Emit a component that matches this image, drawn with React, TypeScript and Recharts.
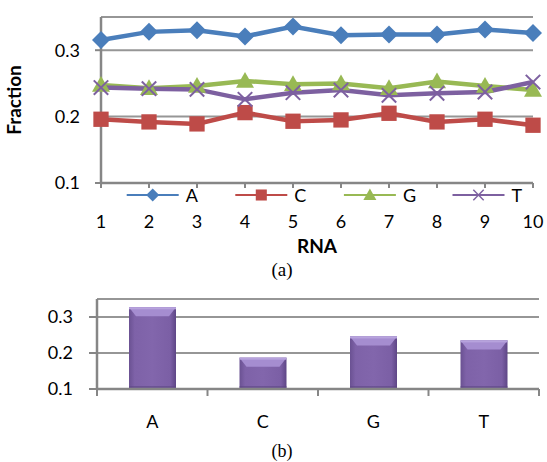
import React from 'react';
import { LineChart, Line, BarChart, Bar, XAxis, YAxis, CartesianGrid, Legend, Label } from 'recharts';

const rnaIndex = [1, 2, 3, 4, 5, 6, 7, 8, 9, 10];
const seriesA = [0.3155, 0.3276, 0.330, 0.3207, 0.3357, 0.3226, 0.3237, 0.3237, 0.331, 0.326];
const seriesC = [0.196, 0.192, 0.189, 0.206, 0.193, 0.195, 0.205, 0.192, 0.196, 0.187];
const seriesG = [0.2477, 0.2427, 0.246, 0.2537, 0.2487, 0.250, 0.2427, 0.2527, 0.246, 0.240];
const seriesT = [0.2437, 0.242, 0.241, 0.226, 0.236, 0.240, 0.232, 0.235, 0.237, 0.252];

const bases = ['A', 'C', 'G', 'T'];
const baseFraction = [0.327, 0.187, 0.246, 0.235];

const yTicks = [0.1, 0.2, 0.3];

const lineData = rnaIndex.map((r, i) => ({ rna: r, A: seriesA[i], C: seriesC[i], G: seriesG[i], T: seriesT[i] }));
const barData = bases.map((b, i) => ({ base: b, value: baseFraction[i] }));

const FONT = 'Lato, "Open Sans", sans-serif';
const AXIS = '#868686';
const GRID = '#969696';
const COLORS: Record<string, string> = { A: '#4A7EBB', C: '#BE4B48', G: '#98B954', T: '#7D60A0' };

function Marker({ kind, cx, cy, size, color }: { kind: string; cx: number; cy: number; size: number; color: string }) {
  const h = size / 2;
  if (kind === 'A') {
    return <polygon points={`${cx},${cy - h} ${cx + h},${cy} ${cx},${cy + h} ${cx - h},${cy}`} fill={color} />;
  }
  if (kind === 'C') {
    const s = h * 0.85;
    return <rect x={cx - s} y={cy - s} width={2 * s} height={2 * s} fill={color} />;
  }
  if (kind === 'G') {
    return <polygon points={`${cx},${cy - h} ${cx + h},${cy + h * 0.75} ${cx - h},${cy + h * 0.75}`} fill={color} />;
  }
  const s = h * 0.8;
  return (
    <g stroke={color} strokeWidth={size / 9}>
      <line x1={cx - s} y1={cy - s} x2={cx + s} y2={cy + s} />
      <line x1={cx - s} y1={cy + s} x2={cx + s} y2={cy - s} />
    </g>
  );
}

const makeDot = (kind: string) => (props: any) => {
  const { cx, cy, index } = props;
  if (cx == null || cy == null) return <g key={`${kind}-${index}`} />;
  return <Marker key={`${kind}-${index}`} kind={kind} cx={cx} cy={cy} size={18} color={COLORS[kind]} />;
};

const LegendContent = (props: any) => {
  const payload = props.payload || [];
  return (
    <svg width={547} height={22} style={{ display: 'block' }}>
      {payload.map((p: any, i: number) => {
        const x0 = 126.7 + i * 108.6;
        const key = String(p.dataKey);
        return (
          <g key={key}>
            <line x1={x0} y1={11} x2={x0 + 52} y2={11} stroke={COLORS[key]} strokeWidth={2} />
            <Marker kind={key} cx={x0 + 26} cy={11} size={13} color={COLORS[key]} />
            <text x={x0 + 59} y={11} dominantBaseline="central" fontFamily={FONT} fontSize={18} fill="#000">
              {key}
            </text>
          </g>
        );
      })}
    </svg>
  );
};

const fmt = (v: number) => v.toFixed(1);

const BAND = (539.3 - 97.3) / 4;

const CategoryTick = (props: any) => {
  const { x, y, payload, index } = props;
  const half = BAND / 2;
  return (
    <g>
      <line x1={x - half} y1={y} x2={x - half} y2={y + 7} stroke={AXIS} strokeWidth={2} />
      {index === bases.length - 1 && <line x1={x + half} y1={y} x2={x + half} y2={y + 7} stroke={AXIS} strokeWidth={2} />}
      <text x={x} y={y + 39} textAnchor="middle" fontFamily={FONT} fontSize={18} fill="#000">
        {payload.value}
      </text>
    </g>
  );
};

const BevelBar = (props: any) => {
  const { x, y, width, height } = props;
  if (height <= 0) return null;
  const b = Math.min(9, height / 3);
  return (
    <g>
      <rect x={x} y={y} width={width} height={height} fill="url(#barGrad)" />
      <polygon points={`${x},${y} ${x + width},${y} ${x + width - 7},${y + b} ${x + 7},${y + b}`} fill="#A58DD0" />
      <rect x={x} y={y} width={width} height={2} fill="#B7A3DD" />
      <rect x={x} y={y + height - 3} width={width} height={3} fill="#5E4686" opacity={0.6} />
    </g>
  );
};

export default function App() {
  return (
    <div style={{ position: 'absolute', left: 0, top: 0, width: 547, height: 462, background: '#fff', fontFamily: FONT, overflow: 'hidden' }}>
      <div style={{ position: 'absolute', left: 0, top: 0 }}>
        <LineChart width={547} height={300} data={lineData} margin={{ top: 17, right: 14, left: 0, bottom: 0 }}>
          <CartesianGrid horizontal vertical={false} stroke={GRID} strokeWidth={2} />
          <XAxis
            dataKey="rna"
            type="number"
            domain={[1, 10]}
            ticks={rnaIndex}
            interval={0}
            height={117}
            axisLine={{ stroke: AXIS, strokeWidth: 2.5 }}
            tickLine={{ stroke: AXIS, strokeWidth: 2 }}
            tickSize={5}
            tickMargin={27}
            tick={{ fontFamily: FONT, fontSize: 18, fill: '#000' }}
          >
            <Label value="RNA" position="insideTop" offset={57} style={{ fontFamily: FONT, fontSize: 19, fontWeight: 700, fill: '#000' }} />
          </XAxis>
          <YAxis
            width={101}
            domain={[0.1, 0.35]}
            ticks={yTicks}
            allowDataOverflow
            tickFormatter={fmt}
            axisLine={{ stroke: AXIS, strokeWidth: 2.5 }}
            tickLine={{ stroke: AXIS, strokeWidth: 2 }}
            tickSize={6}
            tickMargin={15}
            tick={{ fontFamily: FONT, fontSize: 18, fill: '#000' }}
          >
            <Label value="Fraction" angle={-90} position="insideLeft" offset={14} style={{ textAnchor: 'middle', fontFamily: FONT, fontSize: 19, fontWeight: 700, fill: '#000' }} />
          </YAxis>
          <Legend layout="horizontal" verticalAlign="middle" align="center" content={LegendContent} wrapperStyle={{ top: 184, left: 0, width: 547, height: 22 }} />
          <Line dataKey="A" stroke={COLORS.A} strokeWidth={4.5} dot={makeDot('A')} activeDot={false} isAnimationActive={false} />
          <Line dataKey="C" stroke={COLORS.C} strokeWidth={4.5} dot={makeDot('C')} activeDot={false} isAnimationActive={false} />
          <Line dataKey="G" stroke={COLORS.G} strokeWidth={4.5} dot={makeDot('G')} activeDot={false} isAnimationActive={false} />
          <Line dataKey="T" stroke={COLORS.T} strokeWidth={4.5} dot={makeDot('T')} activeDot={false} isAnimationActive={false} />
        </LineChart>
      </div>
      <div style={{ position: 'absolute', left: 0, top: 260, width: 547, height: 20, textAlign: 'center', paddingLeft: 17, boxSizing: 'border-box', fontFamily: '"Liberation Serif", "Times New Roman", serif', fontSize: 19, lineHeight: '20px' }}>
        (a)
      </div>
      <div style={{ position: 'absolute', left: 0, top: 280 }}>
        <BarChart width={547} height={160} data={barData} margin={{ top: 19, right: 8, left: 0, bottom: 0 }} barSize={47}>
          <defs>
            <linearGradient id="barGrad" x1="0" y1="0" x2="1" y2="0">
              <stop offset="0%" stopColor="#6A5192" />
              <stop offset="12%" stopColor="#7E62A8" />
              <stop offset="50%" stopColor="#8266AC" />
              <stop offset="88%" stopColor="#7B5FA5" />
              <stop offset="100%" stopColor="#5E4686" />
            </linearGradient>
          </defs>
          <CartesianGrid horizontal vertical={false} stroke={GRID} strokeWidth={2} />
          <XAxis
            dataKey="base"
            height={51}
            axisLine={{ stroke: AXIS, strokeWidth: 2.5 }}
            tickLine={false}
            tickSize={0}
            tickMargin={0}
            interval={0}
            tick={CategoryTick}
          />
          <YAxis
            width={97}
            domain={[0.1, 0.35]}
            ticks={yTicks}
            allowDataOverflow
            tickFormatter={fmt}
            axisLine={{ stroke: AXIS, strokeWidth: 2.5 }}
            tickLine={{ stroke: AXIS, strokeWidth: 2 }}
            tickSize={8}
            tickMargin={16}
            tick={{ fontFamily: FONT, fontSize: 18, fill: '#000' }}
          />
          <Bar dataKey="value" shape={BevelBar} isAnimationActive={false} />
        </BarChart>
      </div>
      <div style={{ position: 'absolute', left: 0, top: 442, width: 547, height: 18, textAlign: 'center', paddingLeft: 17, boxSizing: 'border-box', fontFamily: '"Liberation Serif", "Times New Roman", serif', fontSize: 18, lineHeight: '18px' }}>
        (b)
      </div>
    </div>
  );
}
